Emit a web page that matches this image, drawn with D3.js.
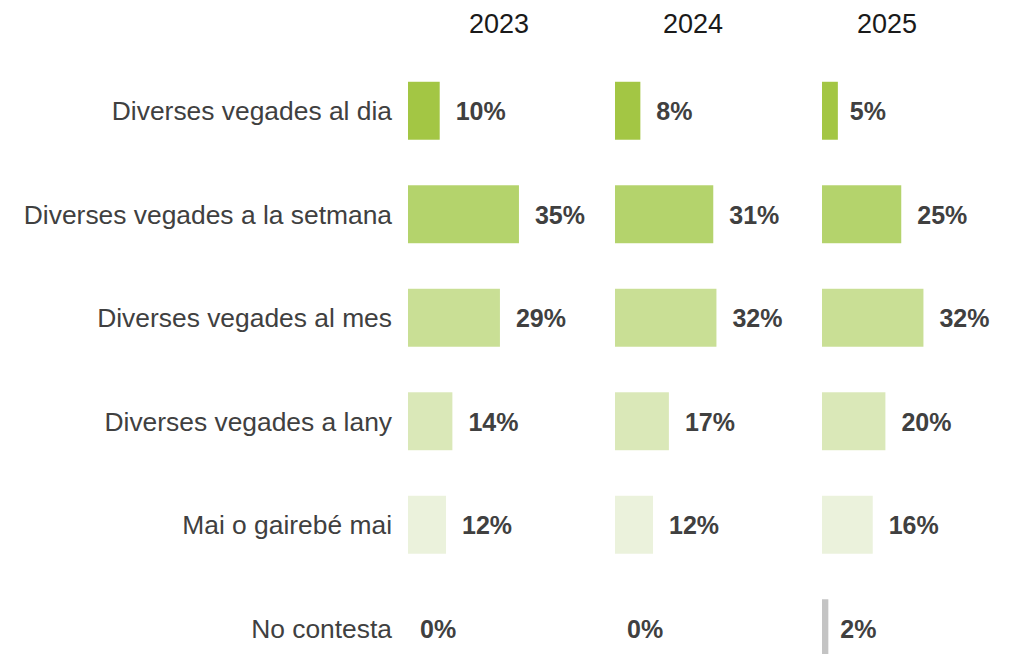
<!DOCTYPE html>
<html>
<head>
<meta charset="utf-8">
<script src="https://cdn.jsdelivr.net/npm/d3@7"></script>
<style>
  body { margin: 0; background: #fff; }
  svg { display: block; font-family: "Liberation Sans", Arial, sans-serif; }
</style>
</head>
<body>
<div id="chart"></div>
<script>
// data
var years = ["2023", "2024", "2025"];
var categories = [
    "Diverses vegades al dia",
    "Diverses vegades a la setmana",
    "Diverses vegades al mes",
    "Diverses vegades a lany",
    "Mai o gairebé mai",
    "No contesta"
];
var values2023 = [10, 35, 29, 14, 12, 0];
var values2024 = [8, 31, 32, 17, 12, 0];
var values2025 = [5, 25, 32, 20, 16, 2];
var barColors = ["#a3c644", "#b4d36c", "#c9df95", "#dae8b8", "#ebf2dc", "#c4c4c4"];

var svgWidth = 1018;
var svgHeight = 654;

var svg = d3.select("#chart")
    .append("svg")
    .attr("width", svgWidth)
    .attr("height", svgHeight);

// rows
var yScale = d3.scaleBand()
    .domain(categories)
    .range([59, 680])
    .paddingInner(0.44)
    .paddingOuter(0.22);

// panels (one per year)
var panelScale = d3.scalePoint()
    .domain(years)
    .range([408, 822]);

var headerScale = d3.scalePoint()
    .domain(years)
    .range([499, 887]);

var xScale = d3.scaleLinear()
    .domain([0, 100])
    .range([0, 317]);

var allValues = [values2023, values2024, values2025];

// year headers
svg.selectAll("text.year")
    .data(years)
    .enter()
    .append("text")
    .attr("class", "year")
    .attr("x", d => headerScale(d))
    .attr("y", 33)
    .attr("text-anchor", "middle")
    .attr("fill", "#1a1a1a")
    .style("font-size", "27px")
    .text(d => d);

// category labels
svg.selectAll("text.cat")
    .data(categories)
    .enter()
    .append("text")
    .attr("class", "cat")
    .attr("x", 392)
    .attr("y", d => yScale(d) + yScale.bandwidth() / 2 + 9.5)
    .attr("text-anchor", "end")
    .attr("fill", "#404040")
    .style("font-size", "26.4px")
    .text(d => d);

years.forEach(function(year, i) {
    var rows = categories.map(function(c, j) {
        return { cat: c, value: allValues[i][j], color: barColors[j] };
    });
    var g = svg.append("g")
        .attr("transform", `translate(${panelScale(year)}, 0)`);

    g.selectAll("rect")
        .data(rows)
        .enter()
        .append("rect")
        .attr("x", 0)
        .attr("y", d => yScale(d.cat))
        .attr("width", d => xScale(d.value))
        .attr("height", yScale.bandwidth())
        .attr("fill", d => d.color);

    g.selectAll("text")
        .data(rows)
        .enter()
        .append("text")
        .attr("x", d => xScale(d.value) + (d.value > 5 ? 16 : 12))
        .attr("y", d => yScale(d.cat) + yScale.bandwidth() / 2 + 9.5)
        .attr("fill", "#404040")
        .style("font-size", "25px")
        .style("font-weight", "bold")
        .text(d => d.value + "%");
});
</script>
</body>
</html>
